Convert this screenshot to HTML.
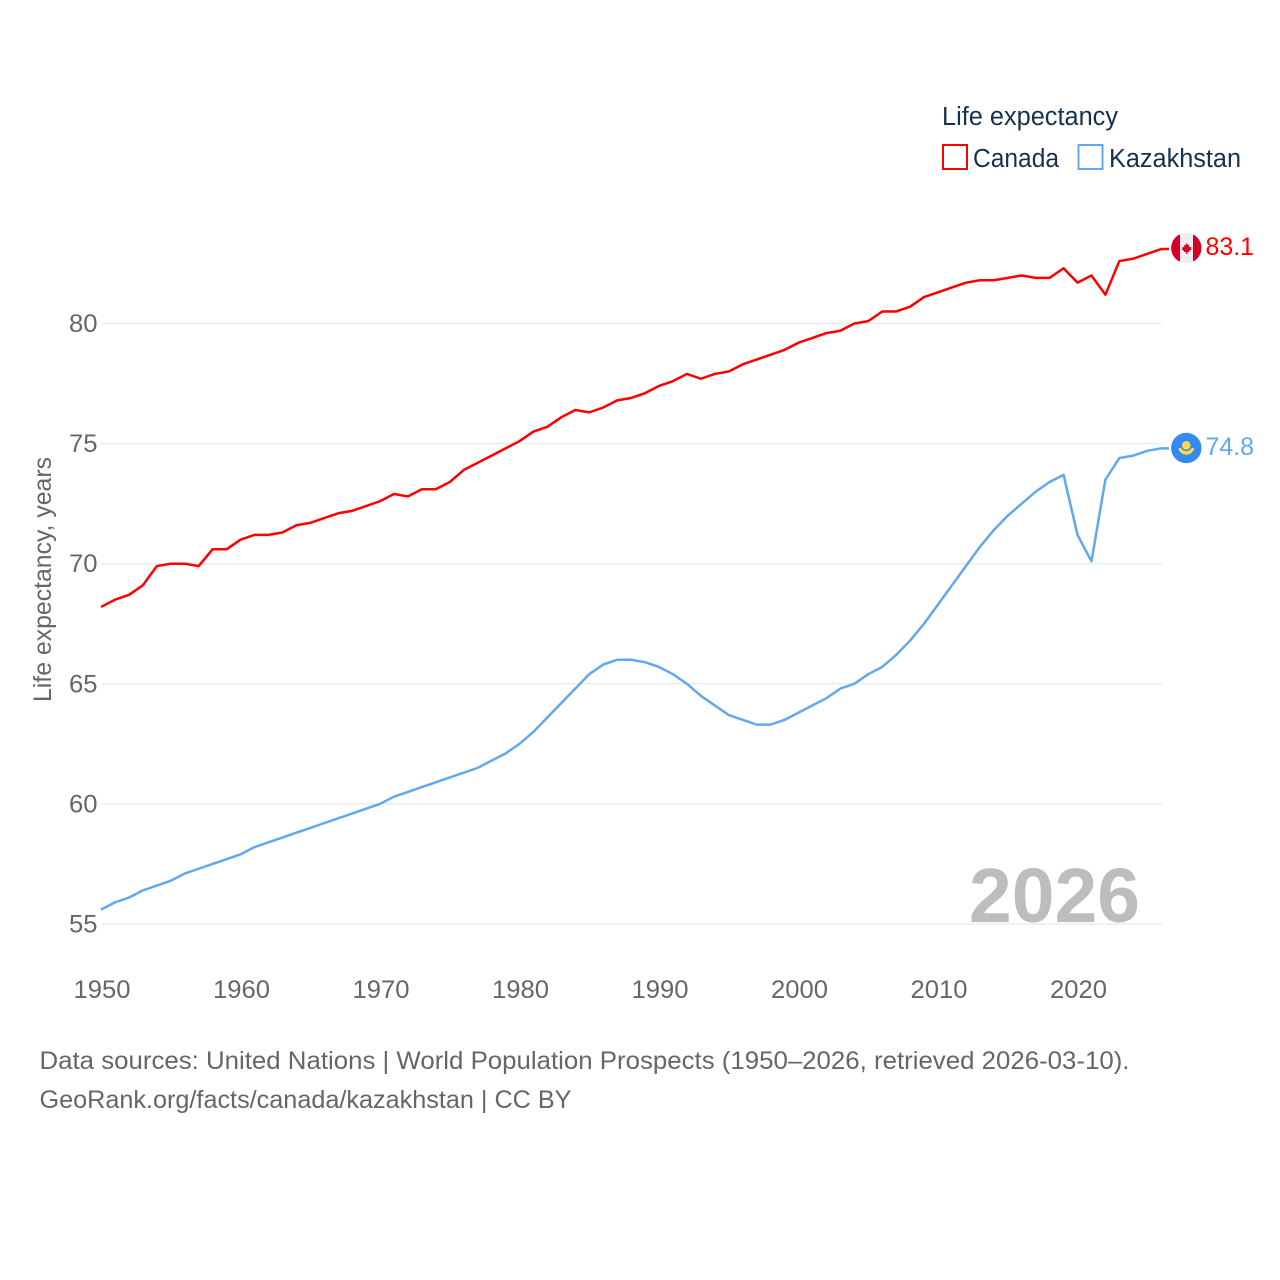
<!DOCTYPE html>
<html lang="en">
<head>
<meta charset="utf-8">
<title>Life expectancy: Canada and Kazakhstan</title>
<style>
  html, body { margin: 0; padding: 0; background: #ffffff; }
  svg { display: block; font-family: "Liberation Sans", sans-serif; }
</style>
</head>
<body>
<svg id="chart" xmlns="http://www.w3.org/2000/svg" width="1280" height="1280" viewBox="0 0 1280 1280">
  <defs>
    <clipPath id="flag-clip-ca"><circle cx="1186.300" cy="248" r="15.200"></circle></clipPath>
    <clipPath id="flag-clip-kz"><circle cx="1186.300" cy="448" r="15.200"></circle></clipPath>
  </defs>
  <rect x="0" y="0" width="1280" height="1280" fill="#ffffff"></rect>

  <g id="grid"></g>
  <g id="y-ticks"></g>
  <g id="x-ticks"></g>

  <text transform="translate(51,579.5) rotate(-90)" text-anchor="middle" font-size="25" fill="#666666" textLength="245" lengthAdjust="spacingAndGlyphs">Life expectancy, years</text>

  <text x="969" y="922" font-size="77" font-weight="700" fill="#bdbdbd" textLength="171" lengthAdjust="spacingAndGlyphs">2026</text>

  <g id="series"></g>

  <g clip-path="url(#flag-clip-ca)">
    <rect x="1171" y="232" width="31" height="32" fill="#eeeeee"></rect>
    <rect x="1171" y="232" width="9" height="32" fill="#d80027"></rect>
    <rect x="1193" y="232" width="9" height="32" fill="#d80027"></rect>
    <path d="M1186.700 243l1.400 2.400 1.300-.6-.4 2.500 2.200-.4-.4 1.500 1.100.7-2.900 2.100.3 1-2 -.3v2.200h-1.200v-2.200l-2 .3.300-1-2.900-2.100 1.100-.7-.4-1.500 2.200.4-.4-2.500 1.300.6z" fill="#d80027"></path>
  </g>
  <g clip-path="url(#flag-clip-kz)">
    <rect x="1171" y="432" width="31" height="32" fill="#338af3"></rect>
    <circle cx="1186.300" cy="445.300" r="4.300" fill="#ffda44"></circle>
    <path d="M1178.300 448.300l2.400-.6c1.400 2 3.200 3.400 5.600 3.400s4.200-1.400 5.600-3.400l2.400.6c-.8 3.400-3.600 6.400-8 6.400s-7.200-3-8-6.400z" fill="#ffda44"></path>
  </g>

  <text x="1205.500" y="255" font-size="25" fill="#ff0000" textLength="48.500" lengthAdjust="spacingAndGlyphs">83.1</text>
  <text x="1205.500" y="455" font-size="25" fill="#62a8ef" textLength="48.500" lengthAdjust="spacingAndGlyphs">74.8</text>

  <g>
    <text x="942" y="125" font-size="25.500" fill="#16304f" textLength="176" lengthAdjust="spacingAndGlyphs">Life expectancy</text>
    <g>
      <rect x="943" y="145" width="24" height="24" fill="none" stroke="#ff0000" stroke-width="2"></rect>
      <text x="973" y="167" font-size="25.500" fill="#16304f" textLength="86" lengthAdjust="spacingAndGlyphs">Canada</text>
    </g>
    <g>
      <rect x="1078.500" y="145" width="24" height="24" fill="none" stroke="#62a8ef" stroke-width="2"></rect>
      <text x="1109" y="167" font-size="25.500" fill="#16304f" textLength="132" lengthAdjust="spacingAndGlyphs">Kazakhstan</text>
    </g>
  </g>

  <text x="39.500" y="1069" font-size="25" fill="#666666" textLength="1090" lengthAdjust="spacingAndGlyphs">Data sources: United Nations | World Population Prospects (1950–2026, retrieved 2026-03-10).</text>
  <text x="39.500" y="1108" font-size="25" fill="#666666" textLength="532" lengthAdjust="spacingAndGlyphs">GeoRank.org/facts/canada/kazakhstan | CC BY</text>
</svg>

<script>
const years = [1950,1951,1952,1953,1954,1955,1956,1957,1958,1959,1960,1961,1962,1963,1964,1965,1966,1967,1968,1969,1970,1971,1972,1973,1974,1975,1976,1977,1978,1979,1980,1981,1982,1983,1984,1985,1986,1987,1988,1989,1990,1991,1992,1993,1994,1995,1996,1997,1998,1999,2000,2001,2002,2003,2004,2005,2006,2007,2008,2009,2010,2011,2012,2013,2014,2015,2016,2017,2018,2019,2020,2021,2022,2023,2024,2025,2026];
const canadaValues = [68.2,68.5,68.7,69.1,69.9,70.0,70.0,69.9,70.6,70.6,71.0,71.2,71.2,71.3,71.6,71.7,71.9,72.1,72.2,72.4,72.6,72.9,72.8,73.1,73.1,73.4,73.9,74.2,74.5,74.8,75.1,75.5,75.7,76.1,76.4,76.3,76.5,76.8,76.9,77.1,77.4,77.6,77.9,77.7,77.9,78.0,78.3,78.5,78.7,78.9,79.2,79.4,79.6,79.7,80.0,80.1,80.5,80.5,80.7,81.1,81.3,81.5,81.7,81.8,81.8,81.9,82.0,81.9,81.9,82.3,81.7,82.0,81.2,82.6,82.7,82.9,83.1];
const kazakhstanValues = [55.6,55.9,56.1,56.4,56.6,56.8,57.1,57.3,57.5,57.7,57.9,58.2,58.4,58.6,58.8,59.0,59.2,59.4,59.6,59.8,60.0,60.3,60.5,60.7,60.9,61.1,61.3,61.5,61.8,62.1,62.5,63.0,63.6,64.2,64.8,65.4,65.8,66.0,66.0,65.9,65.7,65.4,65.0,64.5,64.1,63.7,63.5,63.3,63.3,63.5,63.8,64.1,64.4,64.8,65.0,65.4,65.7,66.2,66.8,67.5,68.3,69.1,69.9,70.7,71.4,72.0,72.5,73.0,73.4,73.7,71.2,70.1,73.5,74.4,74.5,74.7,74.8];
const yTickValues = [55,60,65,70,75,80];
const xTickValues = [1950,1960,1970,1980,1990,2000,2010,2020];

const SVG_NS = 'http://www.w3.org/2000/svg';
function xScale(year) { return 101 + (year - 1950) * 13.95; }
function yScale(value) { return 924 - (value - 55) * (924 - 323.5) / 25; }

const gridGroup = document.getElementById('grid');
const yTickGroup = document.getElementById('y-ticks');
const xTickGroup = document.getElementById('x-ticks');
const seriesGroup = document.getElementById('series');

yTickValues.forEach(function (tick) {
  const line = document.createElementNS(SVG_NS, 'line');
  
  
  line.setAttribute('x1', 101);
  line.setAttribute('x2', 1161.500);
  line.setAttribute('y1', yScale(tick));
  line.setAttribute('y2', yScale(tick));
  line.setAttribute('stroke', '#ececec');
  line.setAttribute('stroke-width', '1.5');
  gridGroup.appendChild(line);

  const label = document.createElementNS(SVG_NS, 'text');
  
  
  label.setAttribute('x', 97.500);
  label.setAttribute('y', yScale(tick) + 8.500);
  label.setAttribute('text-anchor', 'end');
  label.setAttribute('font-size', '25');
  label.setAttribute('fill', '#666666');
  label.setAttribute('textLength', '28.500');
  label.setAttribute('lengthAdjust', 'spacingAndGlyphs');
  label.textContent = String(tick);
  yTickGroup.appendChild(label);
});

xTickValues.forEach(function (tick) {
  const label = document.createElementNS(SVG_NS, 'text');
  
  
  label.setAttribute('x', xScale(tick) + 1);
  label.setAttribute('y', 998);
  label.setAttribute('text-anchor', 'middle');
  label.setAttribute('font-size', '25');
  label.setAttribute('fill', '#666666');
  label.setAttribute('textLength', '57');
  label.setAttribute('lengthAdjust', 'spacingAndGlyphs');
  label.textContent = String(tick);
  xTickGroup.appendChild(label);
});

function buildPoints(values) {
  const points = values.map(function (value, i) {
    return xScale(years[i]).toFixed(2) + ',' + yScale(value).toFixed(2);
  });
  const last = values[values.length - 1];
  points.push('1169,' + yScale(last).toFixed(2));
  return points.join(' ');
}

const canadaLine = document.createElementNS(SVG_NS, 'polyline');


canadaLine.setAttribute('points', buildPoints(canadaValues));
canadaLine.setAttribute('fill', 'none');
canadaLine.setAttribute('stroke', '#ff0000');
canadaLine.setAttribute('stroke-width', '2.5');
canadaLine.setAttribute('stroke-linejoin', 'round');
seriesGroup.appendChild(canadaLine);

const kazakhstanLine = document.createElementNS(SVG_NS, 'polyline');


kazakhstanLine.setAttribute('points', buildPoints(kazakhstanValues));
kazakhstanLine.setAttribute('fill', 'none');
kazakhstanLine.setAttribute('stroke', '#62a8ef');
kazakhstanLine.setAttribute('stroke-width', '2.5');
kazakhstanLine.setAttribute('stroke-linejoin', 'round');
seriesGroup.appendChild(kazakhstanLine);
</script>
</body>
</html>
